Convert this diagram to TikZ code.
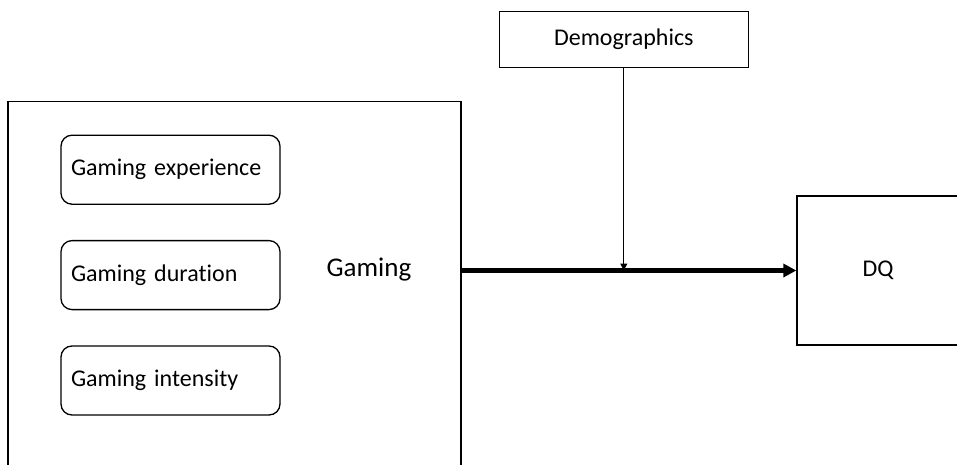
\documentclass[tikz,border=0pt]{standalone}
\usepackage{fontspec}
\setmainfont[Ligatures=NoCommon]{Carlito}
\usetikzlibrary{arrows.meta,positioning}

\begin{document}
\begin{tikzpicture}
        % one unit = one pixel of the 957x465 frame, y counted downwards
        [x=1pt, y=-1pt,
        every node/.style={font=\fontsize{24}{28}\selectfont},
        BigBox/.style={rectangle, draw=black, line width=1.3pt, minimum width=453pt, minimum height=400pt},
        ItemBox/.style={rectangle, rounded corners=11pt, draw=black, line width=1.3pt, minimum width=219pt, minimum height=69pt, text width=199pt, align=left, inner xsep=10pt},
        PlainBox/.style={rectangle, draw=black, line width=1.3pt},
        MainLink/.style={line width=4.6pt, -{Triangle[length=13pt, width=13pt]}},
        ModLink/.style={line width=1.2pt, -{Triangle[length=7pt, width=7pt]}}]

        % frame of the picture
        \clip (0,0) rectangle (957,465);

        % left block, its lower edge lies below the frame
        \node[BigBox] (gaming) at (234.5,301.7) {};
        \node[font=\fontsize{27}{32}\selectfont] (gaminglabel) at (369,270) {Gaming};

        % the three gaming measures
        \foreach \x/\txt in {1/Gaming experience, 2/Gaming duration, 3/Gaming intensity}
        \node[ItemBox] (item_\x) at (170.5, 64.3+105.4*\x) {\txt};

        % moderator and outcome
        \node[PlainBox, minimum width=249pt, minimum height=56pt] (demo) at (623.8,39.7) {Demographics};
        \node[PlainBox, minimum width=162pt, minimum height=149pt] (dq) at (878,270.5) {DQ};

        % main path and moderating path
        \coordinate (meet) at (demo.south |- dq.west);
        \draw[MainLink] (gaming.east |- dq.west) -- (dq.west);
        \draw[ModLink] (demo.south) -- (meet);
\end{tikzpicture}
\end{document}
